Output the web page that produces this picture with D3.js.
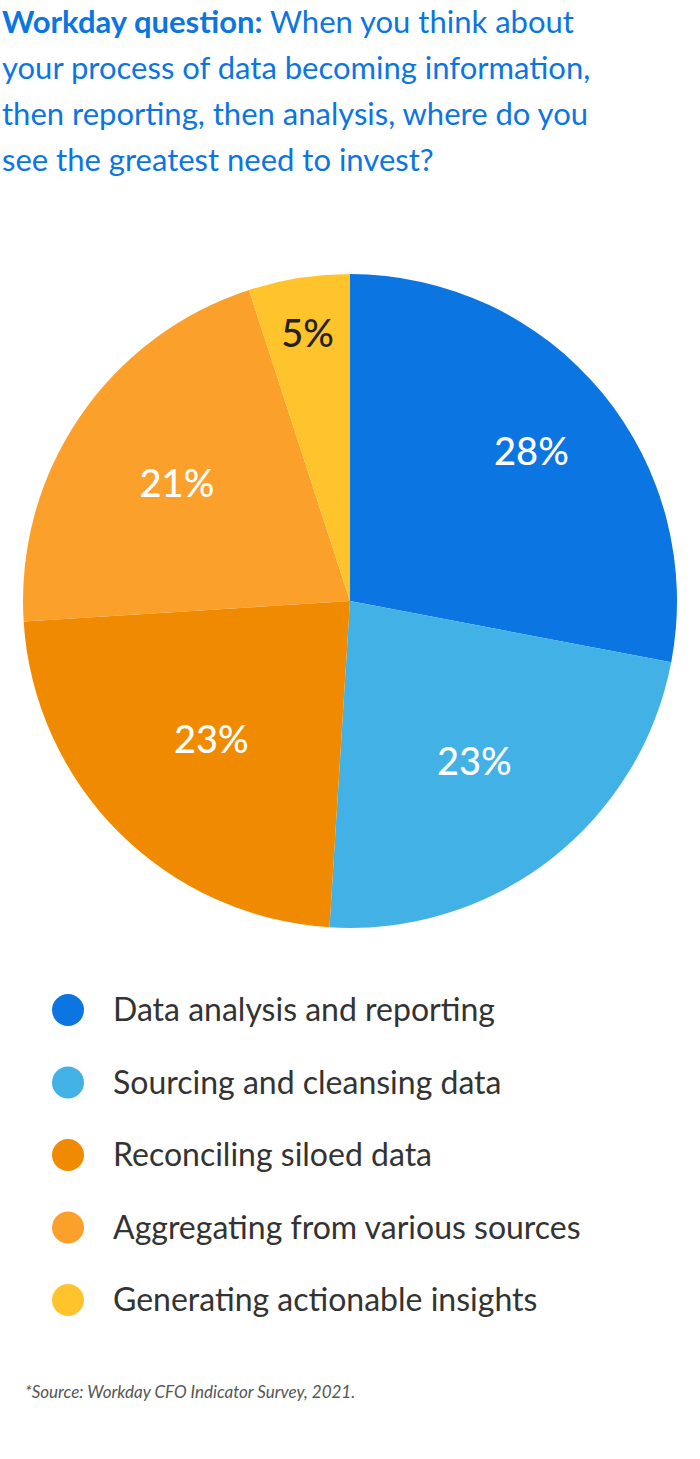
<!DOCTYPE html><html><head><meta charset="utf-8">
<script src="https://cdn.jsdelivr.net/npm/d3@7"></script>
<style>body{margin:0;background:#fff}</style></head><body>
<svg id="c" width="700" height="1459"></svg>
<script>
const categories=["Data analysis and reporting","Sourcing and cleansing data","Reconciling siloed data","Aggregating from various sources","Generating actionable insights"];
const values=[28,23,23,21,5];
const colors=["#0B75E1","#42B1E5","#F08A00","#FCA02C","#FFC42B"];
const labelColors=["#fff","#fff","#fff","#fff","#222"];
const svg=d3.select("#c");
const F="Lato, 'Open Sans', sans-serif";
const t=svg.append("text").attr("font-family",F).attr("font-size",31).attr("fill","#0B75E1");
const lines=[["Workday question:"," When you think about"],["","your process of data becoming information,"],["","then reporting, then analysis, where do you"],["","see the greatest need to invest?"]];
lines.forEach((l,i)=>{const tl=t.append("tspan").attr("x",2).attr("y",33+i*46);
 if(l[0])tl.append("tspan").attr("font-weight","bold").text(l[0]);
 t.append("tspan").text(l[1]).attr("dx",0);
 if(i<3){}});
// rebuild with proper tspans per line
t.remove();
lines.forEach((l,i)=>{const tx=svg.append("text").attr("x",2).attr("y",33+i*46).attr("font-family",F).attr("font-size",31).attr("fill","#0B75E1");
 if(l[0])tx.append("tspan").attr("font-weight","bold").text(l[0]);
 tx.append("tspan").text(l[1]);});
const cx=350,cy=601,r=327;
const pie=d3.pie().sort(null).value(d=>d)(values);
const arc=d3.arc().innerRadius(0).outerRadius(r);
const g=svg.append("g").attr("transform",`translate(${cx},${cy})`);
g.selectAll("path").data(pie).join("path").attr("d",arc).attr("fill",(d,i)=>colors[i]);
const rr=[0.72,0.62,0.6,0.64,0.83];
g.selectAll("text").data(pie).join("text").attr("transform",(d,i)=>{const a=(d.startAngle+d.endAngle)/2;return `translate(${Math.sin(a)*r*rr[i]},${-Math.cos(a)*r*rr[i]})`;})
 .attr("text-anchor","middle").attr("dy","0.36em").attr("font-family",F).attr("font-size",38).attr("font-weight",500)
 .attr("fill",(d,i)=>labelColors[i]).text((d,i)=>values[i]+"%");
const lg=svg.append("g");
categories.forEach((c,i)=>{const y=1010+i*72.5;
 lg.append("circle").attr("cx",68).attr("cy",y).attr("r",16).attr("fill",colors[i]);
 lg.append("text").attr("x",113).attr("y",y).attr("dy","0.35em").attr("font-family",F).attr("font-size",32).attr("fill","#333").text(c);});
svg.append("text").attr("x",25).attr("y",1398).attr("font-family",F).attr("font-size",17).attr("font-style","italic").attr("fill","#555").text("*Source: Workday CFO Indicator Survey, 2021.");
</script></body></html>
